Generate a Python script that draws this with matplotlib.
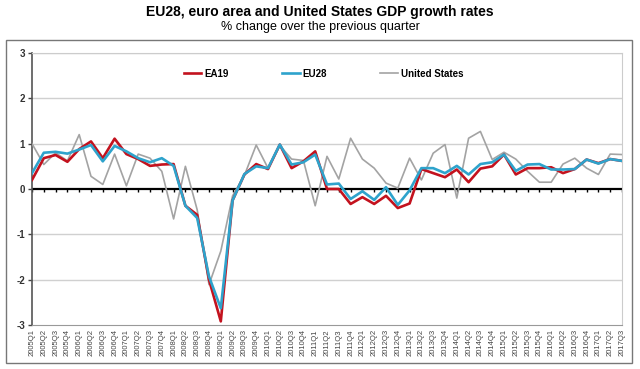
import matplotlib
matplotlib.use("Agg")
import matplotlib.pyplot as plt
from matplotlib.patches import Rectangle

plt.rcParams["font.family"] = ["Liberation Sans", "DejaVu Sans"]

# quarters 2005Q1 .. 2017Q3
quarters = ["%dQ%d" % (y, q) for y in range(2005, 2018) for q in range(1, 5)][:51]

ea19 = [0.20, 0.68, 0.75, 0.60, 0.88, 1.05, 0.68, 1.11, 0.77, 0.66,
        0.51, 0.54, 0.55, -0.37, -0.57, -2.00, -2.92, -0.25, 0.32, 0.55,
        0.44, 0.98, 0.46, 0.61, 0.83, 0.00, 0.00, -0.33, -0.18, -0.33,
        -0.15, -0.42, -0.32, 0.44, 0.35, 0.26, 0.43, 0.15, 0.45, 0.50,
        0.76, 0.32, 0.46, 0.46, 0.48, 0.35, 0.44, 0.65, 0.57, 0.66, 0.62]
eu28 = [0.35, 0.80, 0.82, 0.78, 0.87, 0.97, 0.61, 0.95, 0.83, 0.68,
        0.59, 0.68, 0.51, -0.37, -0.64, -1.93, -2.63, -0.25, 0.33, 0.50,
        0.46, 0.98, 0.54, 0.59, 0.76, 0.10, 0.12, -0.22, -0.05, -0.24,
        0.04, -0.35, -0.03, 0.46, 0.46, 0.35, 0.51, 0.32, 0.55, 0.59,
        0.76, 0.40, 0.54, 0.55, 0.43, 0.43, 0.44, 0.65, 0.56, 0.66, 0.62]
usa = [1.00, 0.54, 0.80, 0.62, 1.20, 0.28, 0.10, 0.77, 0.07, 0.77,
       0.68, 0.39, -0.66, 0.50, -0.46, -2.11, -1.37, -0.15, 0.30, 0.97,
       0.46, 0.96, 0.66, 0.63, -0.37, 0.72, 0.22, 1.12, 0.66, 0.46,
       0.13, 0.02, 0.68, 0.20, 0.79, 0.98, -0.20, 1.12, 1.27, 0.65,
       0.81, 0.66, 0.39, 0.15, 0.15, 0.55, 0.68, 0.46, 0.32, 0.77, 0.76]

fig = plt.figure(figsize=(6.4, 3.69), dpi=100)
ax = fig.add_axes([32/640, 1-325/369, 590/640, 272/369])

x = list(range(len(quarters)))
ax.plot(x, usa, color="#a3a3a3", lw=1.2, label="United States", zorder=3)
ax.plot(x, ea19, color="#c3121e", lw=1.9, label="EA19", zorder=4)
ax.plot(x, eu28, color="#2ea3cc", lw=1.9, label="EU28", zorder=5)

ax.set_xlim(0, len(quarters)-1)
ax.set_ylim(-3, 3)
ax.set_yticks([-3, -2, -1, 0, 1, 2, 3])
ax.set_yticklabels(["-3", "-2", "-1", "0", "1", "2", "3"], fontsize=7, fontweight="bold", color="#333333")
for v in [-2, -1, 1, 2, 3]:
    ax.axhline(v, color="#d0d0d0", lw=1, zorder=1)
ax.axhline(0, color="black", lw=1.6, zorder=2)
ax.vlines(x, -0.07, 0, color="black", lw=1, zorder=2)

ax.set_xticks(x)
ax.set_xticklabels(quarters, rotation=90, fontsize=5.5, color="#444444")
ax.tick_params(axis="x", length=0, pad=3)
ax.tick_params(axis="y", length=3, width=1, color="#444444", pad=2)

ax.spines["left"].set_color("#555555")
ax.spines["left"].set_linewidth(1.2)
ax.spines["bottom"].set_color("#999999")
ax.spines["top"].set_color("#cccccc")
ax.spines["right"].set_color("#cccccc")

h, l = ax.get_legend_handles_labels()
order = [1, 2, 0]
ax.legend([h[i] for i in order], [l[i] for i in order], loc="upper left",
          bbox_to_anchor=(143/590, 0.975), ncol=3, frameon=False,
          handlelength=1.8, columnspacing=5.5, handletextpad=0.3,
          prop={"weight": "bold", "size": 7})

fig.text(0.5, 1-12/369, "EU28, euro area and United States GDP growth rates",
         ha="center", va="center", fontsize=10, fontweight="bold")
fig.text(0.5, 1-27/369, "% change over the previous quarter",
         ha="center", va="center", fontsize=9)

fig.patches.append(Rectangle((6/640, 1-363/369), 626/640, 323/369,
                             transform=fig.transFigure, fill=False,
                             edgecolor="#777777", lw=1))

fig.savefig("out.png", dpi=100)
